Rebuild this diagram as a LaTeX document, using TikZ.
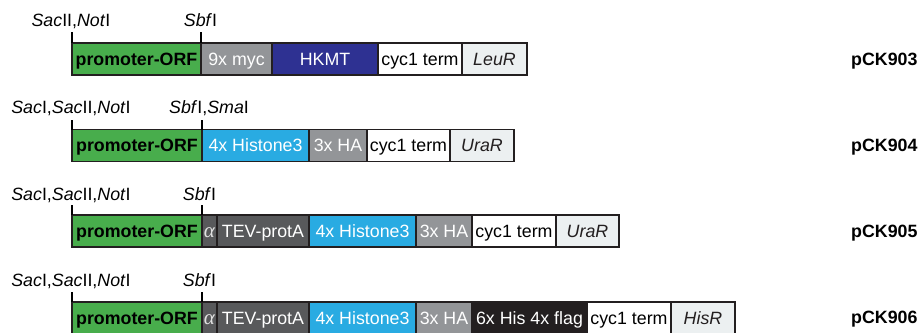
\documentclass[tikz,border=0pt]{standalone}
\usepackage{fontspec}
\setmainfont{Liberation Sans}
\newfontfamily\greekserif{Liberation Serif}

% Colours of the construct elements
\definecolor{edge}{RGB}{35,31,32}
\definecolor{promo}{RGB}{72,173,76}
\definecolor{navy}{RGB}{46,49,146}
\definecolor{histone}{RGB}{41,171,226}
\definecolor{midgray}{RGB}{147,149,152}
\definecolor{darkgray}{RGB}{88,89,91}
\definecolor{tagblack}{RGB}{35,31,32}
\definecolor{marker}{RGB}{236,240,241}

\newcommand\labelsize{\fontsize{17.8}{21}\selectfont}

\tikzset{
  seg/.style={draw=edge, line width=1.5pt, minimum height=32pt, inner sep=0pt,
              outer sep=0pt, anchor=west, text height=12.7pt, text depth=0.5pt,
              font=\labelsize},
  promoter/.style={seg, fill=promo, font=\labelsize\bfseries, text=black},
  myc/.style={seg, fill=midgray, text=white},
  hkmt/.style={seg, fill=navy, text=white},
  h3/.style={seg, fill=histone, text=white},
  ha/.style={seg, fill=midgray, text=white},
  alphabox/.style={seg, fill=darkgray, text=white!88!black,
                   font=\fontsize{21}{24}\selectfont\greekserif\itshape},
  tev/.style={seg, fill=darkgray, text=white},
  tags/.style={seg, fill=tagblack, text=white},
  term/.style={seg, fill=white, text=black},
  selm/.style={seg, fill=marker, text=edge, font=\labelsize\itshape},
  site/.style={anchor=base, inner sep=0pt, font=\labelsize, text=black},
  plasmid/.style={anchor=base west, inner sep=0pt, font=\labelsize\bfseries, text=black},
  tick/.style={draw=black, line width=1.4pt}
}

\begin{document}
\begin{tikzpicture}[x=1pt, y=-1pt]
\useasboundingbox (0,0) rectangle (920,332);

% ---------------- pCK903 ----------------
\node[promoter, minimum width=129pt] (a1) at (72,59) {promoter-ORF};
\node[myc,  minimum width=71pt]  (a2) at (201,59) {9x myc};
\node[hkmt, minimum width=106pt] (a3) at (272,59) {HKMT};
\node[term, minimum width=84pt]  (a4) at (378,59) {cyc1 term};
\node[selm, minimum width=65pt]  (a5) at (462,59) {LeuR};
\node[plasmid] (na) at (851,65) {pCK903};
\node[site] (sa1) at (71,26) {\textit{Sac}II,\textit{Not}I};
\node[site] (sa2) at (200.5,26) {\textit{Sbf}I};
\coordinate (ka1) at ([yshift=11pt]a1.north west);
\coordinate (ka2) at ([yshift=11pt]a1.north east);
\draw[tick] (a1.north west) -- (ka1);
\draw[tick] (a1.north east) -- (ka2);

% ---------------- pCK904 ----------------
\node[promoter, minimum width=130pt] (b1) at (72,145.5) {promoter-ORF};
\node[h3,   minimum width=107pt] (b2) at (202,145.5) {4x Histone3};
\node[ha,   minimum width=58pt]  (b3) at (309,145.5) {3x HA};
\node[term, minimum width=83pt]  (b4) at (367,145.5) {cyc1 term};
\node[selm, minimum width=64pt]  (b5) at (450,145.5) {UraR};
\node[plasmid] (nb) at (851,151.5) {pCK904};
\node[site] (sb1) at (71,113) {\textit{Sac}I,\textit{Sac}II,\textit{Not}I};
\node[site] (sb2) at (209,113) {\textit{Sbf}I,\textit{Sma}I};
\coordinate (kb1) at ([yshift=10pt]b1.north west);
\coordinate (kb2) at ([yshift=10pt]b1.north east);
\draw[tick] (b1.north west) -- (kb1);
\draw[tick] (b1.north east) -- (kb2);

% ---------------- pCK905 ----------------
\node[promoter, minimum width=130pt] (c1) at (72,231) {promoter-ORF};
\node[alphabox, minimum width=15pt] (c2) at (202,231) {α};
\node[tev,  minimum width=92pt]  (c3) at (217,231) {TEV-protA};
\node[h3,   minimum width=107pt] (c4) at (309,231) {4x Histone3};
\node[ha,   minimum width=56pt]  (c5) at (416,231) {3x HA};
\node[term, minimum width=84pt]  (c6) at (472,231) {cyc1 term};
\node[selm, minimum width=63pt]  (c7) at (556,231) {UraR};
\node[plasmid] (nc) at (851,237) {pCK905};
\node[site] (sc1) at (71,200) {\textit{Sac}I,\textit{Sac}II,\textit{Not}I};
\node[site] (sc2) at (199.5,200) {\textit{Sbf}I};
\coordinate (kc1) at ([yshift=10pt]c1.north west);
\coordinate (kc2) at ([yshift=10pt]c1.north east);
\draw[tick] (c1.north west) -- (kc1);
\draw[tick] (c1.north east) -- (kc2);

% ---------------- pCK906 ----------------
\node[promoter, minimum width=130pt] (d1) at (72,318) {promoter-ORF};
\node[alphabox, minimum width=15pt] (d2) at (202,318) {α};
\node[tev,  minimum width=92pt]  (d3) at (217,318) {TEV-protA};
\node[h3,   minimum width=107pt] (d4) at (309,318) {4x Histone3};
\node[ha,   minimum width=56pt]  (d5) at (416,318) {3x HA};
\node[tags, minimum width=115pt] (d6) at (472,318) {6x His 4x flag};
\node[term, minimum width=84pt]  (d7) at (587,318) {cyc1 term};
\node[selm, minimum width=64pt]  (d8) at (671,318) {HisR};
\node[plasmid] (nd) at (851,323.5) {pCK906};
\node[site] (sd1) at (71,286) {\textit{Sac}I,\textit{Sac}II,\textit{Not}I};
\node[site] (sd2) at (199.5,286) {\textit{Sbf}I};
\coordinate (kd1) at ([yshift=10pt]d1.north west);
\coordinate (kd2) at ([yshift=10pt]d1.north east);
\draw[tick] (d1.north west) -- (kd1);
\draw[tick] (d1.north east) -- (kd2);
\end{tikzpicture}
\end{document}
